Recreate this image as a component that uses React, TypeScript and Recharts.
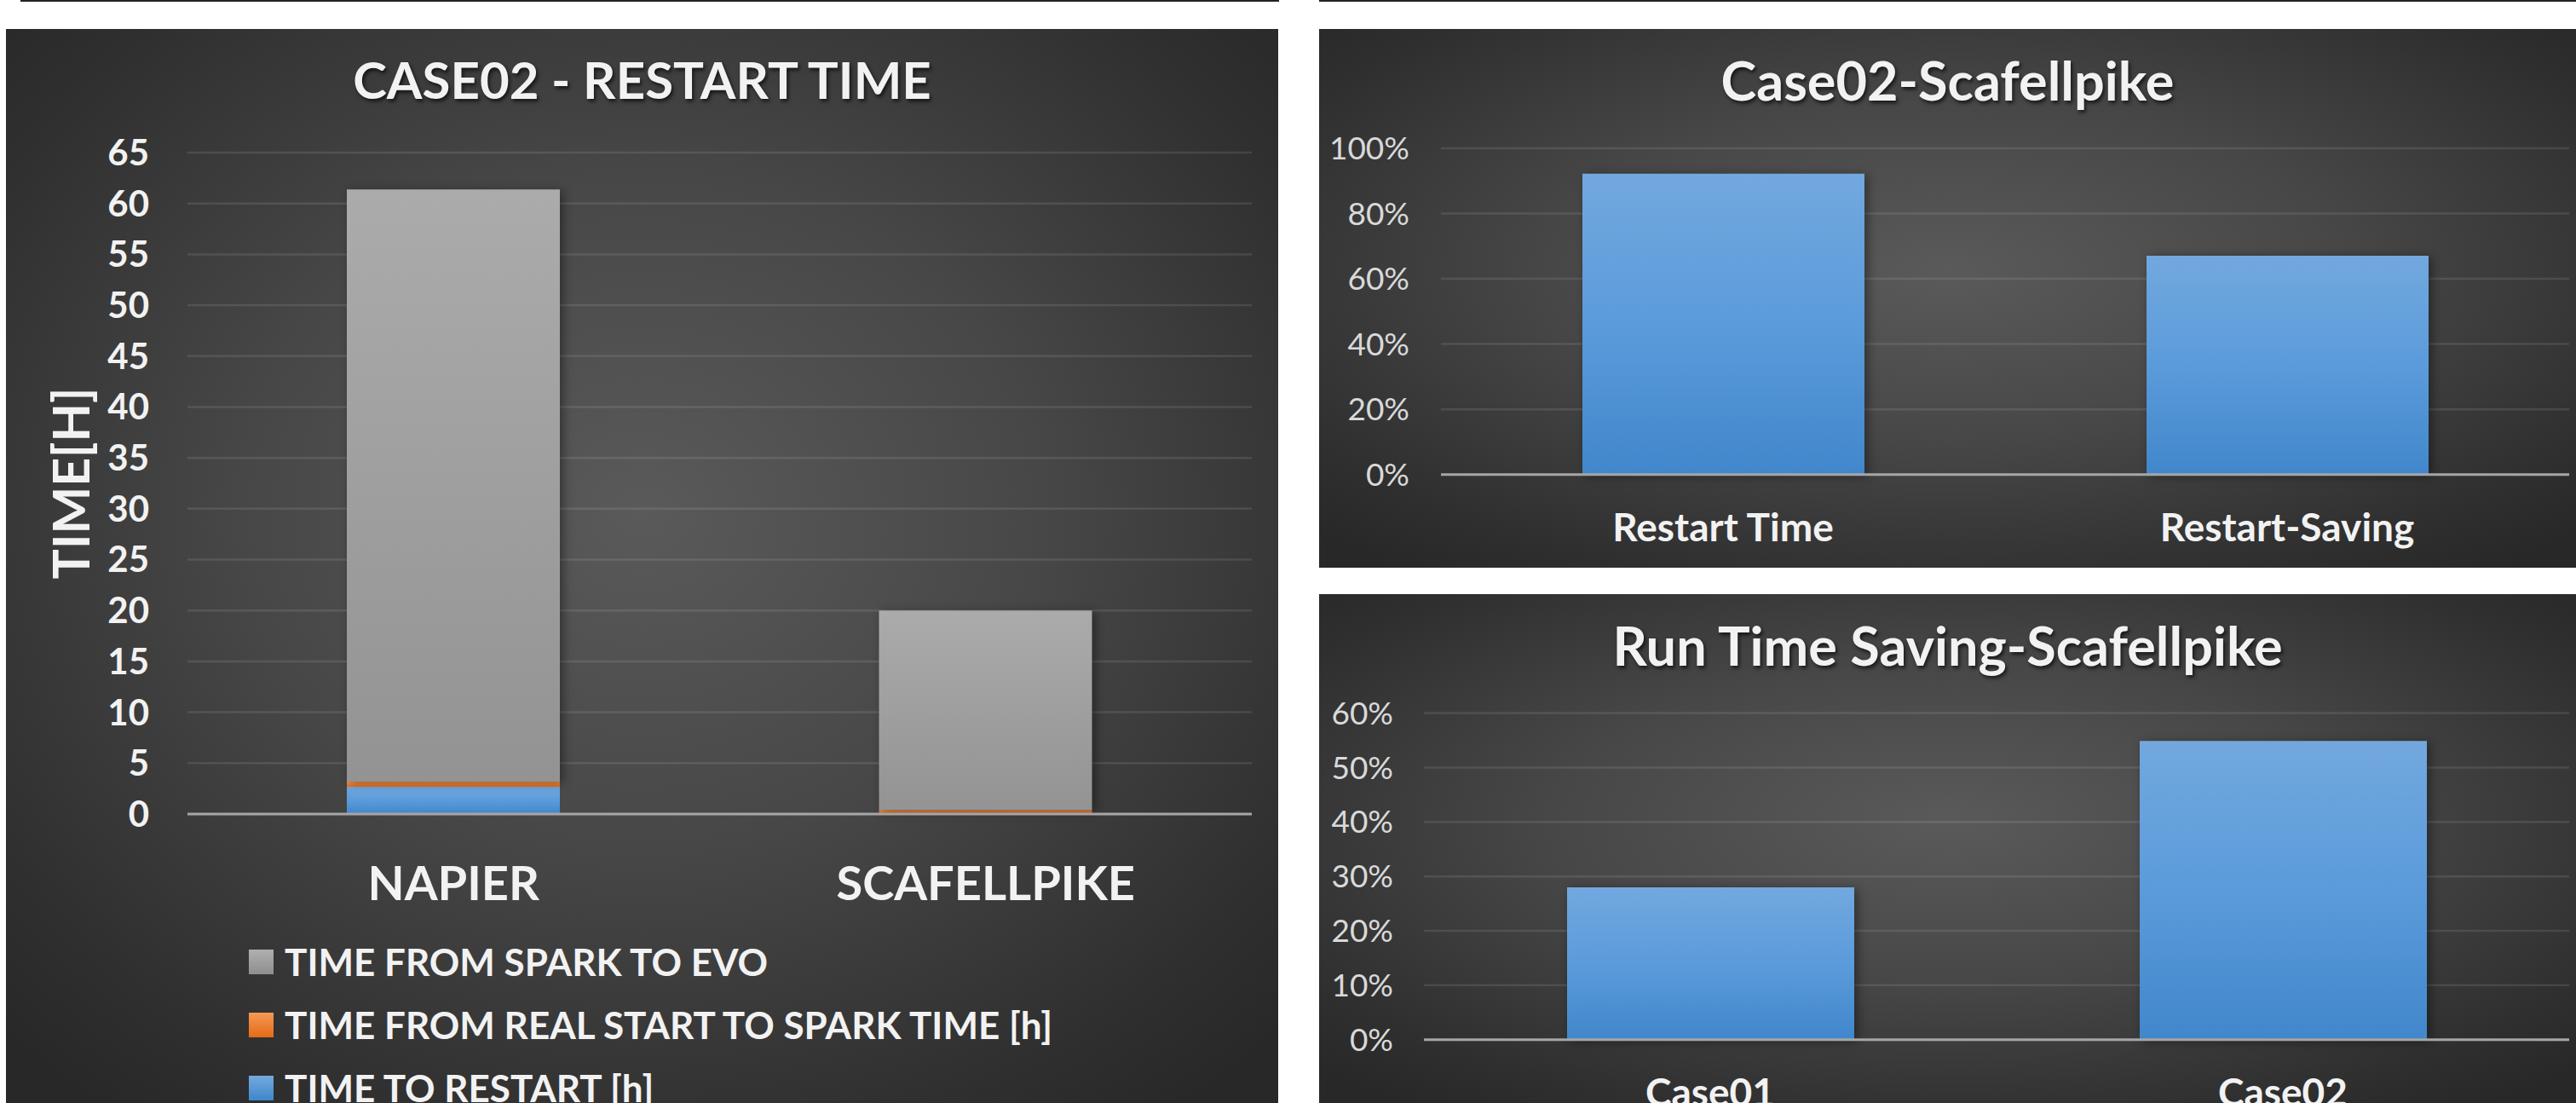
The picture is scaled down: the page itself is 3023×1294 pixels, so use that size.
import React from "react";
import {
  Bar,
  BarChart,
  CartesianGrid,
  Label,
  XAxis,
  YAxis,
} from "recharts";

// left chart: stacked restart times (hours)
const machines = ["NAPIER", "SCAFELLPIKE"];
const timeToRestart = [2.68, 0.1];
const realStartToSpark = [0.5, 0.3];
const sparkToEvo = [58.2, 19.6];
const hourTicks = [0, 5, 10, 15, 20, 25, 30, 35, 40, 45, 50, 55, 60, 65];

// right top: Case02-Scafellpike
const savingCategories = ["Restart Time", "Restart-Saving"];
const savingValues = [0.922, 0.671];
const savingTicks = [0, 0.2, 0.4, 0.6, 0.8, 1];

// right bottom: run time saving
const runCategories = ["Case01", "Case02"];
const runValues = [0.28, 0.549];
const runTicks = [0, 0.1, 0.2, 0.3, 0.4, 0.5, 0.6];

const legendItems = [
  { label: "TIME FROM SPARK TO EVO", grad: "linear-gradient(#b0b0b0, #8e8e8e)" },
  { label: "TIME FROM REAL START TO SPARK TIME [h]", grad: "linear-gradient(#f59a55, #e46a17)" },
  { label: "TIME TO RESTART [h]", grad: "linear-gradient(#74aadf, #3f86cb)" },
];

const FONT = "Lato, 'DejaVu Sans Condensed', sans-serif";
const GRID = "rgba(255,255,255,0.1)";
const AXIS = "#a6a6a6";
const PANEL_BG =
  "radial-gradient(ellipse 70% 70% at 50% 45%, #5a5a5a 0%, #474747 45%, #2f2f2f 85%, #282828 100%)";

const stackData = machines.map((name, i) => ({
  name,
  restart: timeToRestart[i],
  real: realStartToSpark[i],
  spark: sparkToEvo[i],
}));
const savingData = savingCategories.map((name, i) => ({ name, v: savingValues[i] }));
const runData = runCategories.map((name, i) => ({ name, v: runValues[i] }));

const pct = (v: number) => `${Math.round(v * 100)}%`;

function Defs() {
  return (
    <defs>
      <linearGradient id="gGray" x1="0" y1="0" x2="0" y2="1">
        <stop offset="0%" stopColor="#ababab" />
        <stop offset="100%" stopColor="#939393" />
      </linearGradient>
      <linearGradient id="gOrange" x1="0" y1="0" x2="0" y2="1">
        <stop offset="0%" stopColor="#f5924a" />
        <stop offset="100%" stopColor="#e86f1d" />
      </linearGradient>
      <linearGradient id="gBlue" x1="0" y1="0" x2="0" y2="1">
        <stop offset="0%" stopColor="#72a8de" />
        <stop offset="50%" stopColor="#5b9bdb" />
        <stop offset="100%" stopColor="#4187cb" />
      </linearGradient>
    </defs>
  );
}

function Title({ text, top, size }: { text: string; top: number; size: number }) {
  return (
    <div
      style={{
        position: "absolute",
        left: 0,
        right: 0,
        top,
        textAlign: "center",
        fontFamily: FONT,
        fontWeight: 700,
        fontSize: size,
        lineHeight: `${size}px`,
        color: "#f2f2f2",
        textShadow: "2px 3px 4px rgba(0,0,0,0.65)",
        whiteSpace: "nowrap",
      }}
    >
      {text}
    </div>
  );
}

function Panel({
  left,
  top,
  width,
  height,
  children,
}: {
  left: number;
  top: number;
  width: number;
  height: number;
  children: React.ReactNode;
}) {
  return (
    <div
      style={{
        position: "absolute",
        left,
        top,
        width,
        height,
        background: PANEL_BG,
        overflow: "hidden",
      }}
    >
      {children}
    </div>
  );
}

function YTitle(props: any) {
  const vb = props.viewBox || { y: 0, height: 0 };
  const cx = 75;
  const cy = vb.y + vb.height / 2;
  return (
    <text
      x={cx}
      y={cy}
      transform={`rotate(-90 ${cx} ${cy})`}
      textAnchor="middle"
      dominantBaseline="central"
      fill="#f2f2f2"
      fontSize={59}
      fontWeight={700}
      fontFamily={FONT}
    >
      TIME[H]
    </text>
  );
}

function RestartChart() {
  return (
    <Panel left={7} top={34} width={1493} height={1260}>
      <Title text="CASE02 - RESTART TIME" top={29} size={60} />
      <div style={{ position: "absolute", left: 0, top: 0 }}>
        <BarChart
          width={1493}
          height={1260}
          data={stackData}
          margin={{ top: 145, right: 31, left: 0, bottom: 189 }}
        >
          <Defs />
          <CartesianGrid vertical={false} stroke={GRID} strokeWidth={2.5} />
          <XAxis
            dataKey="name"
            axisLine={{ stroke: AXIS, strokeWidth: 3 }}
            tickLine={false}
            tickSize={0}
            tickMargin={61}
            height={150}
            tick={{ fill: "#f2f2f2", fontSize: 56, fontWeight: 700, fontFamily: FONT }}
          />
          <YAxis
            type="number"
            domain={[0, 65]}
            ticks={hourTicks}
            interval={0}
            width={213}
            axisLine={false}
            tickLine={false}
            tickSize={0}
            tickMargin={45}
            tick={{ fill: "#f2f2f2", fontSize: 42, fontWeight: 700, fontFamily: FONT }}
          >
            <Label content={<YTitle />} />
          </YAxis>
          <Bar dataKey="restart" stackId="s" barSize={250} fill="url(#gBlue)" isAnimationActive={false} />
          <Bar dataKey="real" stackId="s" barSize={250} fill="url(#gOrange)" isAnimationActive={false} />
          <Bar
            dataKey="spark"
            stackId="s"
            barSize={250}
            fill="url(#gGray)"
            isAnimationActive={false}
            style={{ filter: "drop-shadow(4px 2px 6px rgba(0,0,0,0.4))" }}
          />
        </BarChart>
      </div>
      {legendItems.map((it, i) => (
        <div
          key={it.label}
          style={{
            position: "absolute",
            left: 285,
            top: 1094 + i * 74 - 30,
            height: 60,
            display: "flex",
            alignItems: "center",
            fontFamily: FONT,
            fontWeight: 700,
            fontSize: 44,
            color: "#f2f2f2",
            whiteSpace: "nowrap",
          }}
        >
          <span
            style={{
              display: "inline-block",
              width: 29,
              height: 29,
              background: it.grad,
              marginRight: 13,
            }}
          />
          {it.label}
        </div>
      ))}
    </Panel>
  );
}

function PercentChart({
  title,
  data,
  ticks,
  top,
  height,
  yWidth,
  plotTop,
  barSize,
  tickMargin,
}: {
  title: string;
  data: { name: string; v: number }[];
  ticks: number[];
  top: number;
  height: number;
  yWidth: number;
  plotTop: number;
  barSize: number;
  tickMargin: number;
}) {
  const xHeight = 74;
  const bottom = height - 522.7 - xHeight;
  return (
    <Panel left={1548} top={top} width={1475} height={height}>
      <Title text={title} top={28} size={63} />
      <div style={{ position: "absolute", left: 0, top: 0 }}>
        <BarChart
          width={1475}
          height={height}
          data={data}
          margin={{ top: plotTop, right: 8, left: 0, bottom }}
        >
          <Defs />
          <CartesianGrid vertical={false} stroke={GRID} strokeWidth={2.5} />
          <XAxis
            dataKey="name"
            axisLine={{ stroke: AXIS, strokeWidth: 3 }}
            tickLine={false}
            tickSize={0}
            tickMargin={46}
            height={xHeight}
            tick={{ fill: "#f2f2f2", fontSize: 46, fontWeight: 700, fontFamily: FONT }}
          />
          <YAxis
            type="number"
            domain={[ticks[0], ticks[ticks.length - 1]]}
            ticks={ticks}
            interval={0}
            width={yWidth}
            axisLine={false}
            tickLine={false}
            tickSize={0}
            tickMargin={tickMargin}
            tickFormatter={pct}
            tick={{ fill: "#d9d9d9", fontSize: 37, fontFamily: FONT }}
          />
          <Bar
            dataKey="v"
            barSize={barSize}
            fill="url(#gBlue)"
            isAnimationActive={false}
            style={{ filter: "drop-shadow(4px 2px 6px rgba(0,0,0,0.4))" }}
          />
        </BarChart>
      </div>
    </Panel>
  );
}

export default function App() {
  return (
    <div
      style={{
        position: "absolute",
        left: 0,
        top: 0,
        width: 3023,
        height: 1294,
        background: "#ffffff",
        overflow: "hidden",
      }}
    >
      <div style={{ position: "absolute", left: 24, top: 0, width: 1477, height: 2, background: "#222" }} />
      <div style={{ position: "absolute", left: 1548, top: 0, width: 1475, height: 2, background: "#222" }} />
      <RestartChart />
      <PercentChart
        title="Case02-Scafellpike"
        data={savingData}
        ticks={savingTicks}
        top={34}
        height={632}
        yWidth={143}
        plotTop={140}
        barSize={331}
        tickMargin={37}
      />
      <PercentChart
        title="Run Time Saving-Scafellpike"
        data={runData}
        ticks={runTicks}
        top={697}
        height={597}
        yWidth={123}
        plotTop={139.6}
        barSize={337}
        tickMargin={36}
      />
    </div>
  );
}
